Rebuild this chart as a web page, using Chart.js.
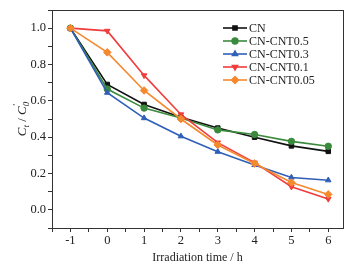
<!DOCTYPE html>
<html>
<head>
<meta charset="utf-8">
<script src="https://cdn.jsdelivr.net/npm/chart.js@4/dist/chart.umd.min.js"></script>
<style>
  html, body { margin: 0; padding: 0; background: #fff; }
  #wrap { width: 362px; height: 265px; }
</style>
</head>
<body>
<div id="wrap"><canvas id="c" width="362" height="265"></canvas></div>
<script>
// irradiation time (h)
const times = [-1, 0, 1, 2, 3, 4, 5, 6];

const cn       = [1.00, 0.69, 0.58, 0.51, 0.45, 0.40, 0.352, 0.322];
const cnt05    = [1.00, 0.665, 0.56, 0.505, 0.44, 0.415, 0.377, 0.35];
const cnt03    = [1.00, 0.645, 0.505, 0.405, 0.32, 0.247, 0.178, 0.163];
const cnt01    = [1.00, 0.985, 0.74, 0.525, 0.37, 0.26, 0.127, 0.06];
const cnt005   = [1.00, 0.867, 0.657, 0.50, 0.357, 0.255, 0.15, 0.085];

const seriesNames = ['CN', 'CN-CNT0.5', 'CN-CNT0.3', 'CN-CNT0.1', 'CN-CNT0.05'];
const seriesColors = ['#111111', '#3a8a3c', '#2f5fb8', '#f03c3c', '#f5892e'];

const serif = '"Liberation Serif", "Times New Roman", serif';
const axisColor = '#333';

function pts(vals) {
  return vals.map(function (v, i) { return { x: times[i], y: v }; });
}

function makeSet(n, vals, style, rot) {
  return {
    label: seriesNames[n],
    data: pts(vals),
    borderColor: seriesColors[n],
    backgroundColor: seriesColors[n],
    borderWidth: 1.6,
    pointStyle: style,
    pointRotation: rot || 0,
    pointRadius: style === 'rectRot' ? 3.8 : 3.2,
    pointBorderWidth: 1,
    tension: 0,
    order: 5 - n
  };
}

const datasets = [
  makeSet(0, cn, 'rect'),
  makeSet(1, cnt05, 'circle'),
  makeSet(2, cnt03, 'triangle'),
  makeSet(3, cnt01, 'triangle', 180),
  makeSet(4, cnt005, 'rectRot')
];

// frame, y title and legend drawn on the canvas
const extras = {
  id: 'extras',
  afterDraw: function (chart) {
    const ctx = chart.ctx;
    const a = chart.chartArea;
    ctx.save();
    ctx.strokeStyle = axisColor;
    ctx.lineWidth = 1;
    ctx.strokeRect(a.left + 0.5, a.top + 0.5, a.right - a.left, a.bottom - a.top);

    // y axis title: C_t / C'_0
    ctx.translate(21, (a.top + a.bottom) / 2);
    ctx.rotate(-Math.PI / 2);
    ctx.fillStyle = '#222';
    ctx.textBaseline = 'alphabetic';
    const big = 'italic 13px ' + serif;
    const small = 'italic 9px ' + serif;
    const norm = '13px ' + serif;
    const parts = [
      [big, 'C', 0], [small, 't', 3], [norm, ' / ', 0],
      [big, 'C', 0], [small, '0', 3], [small, "'", -7]
    ];
    const widths = parts.map(function (p) {
      ctx.font = p[0];
      return ctx.measureText(p[1]).width;
    });
    const total = widths[0] + widths[1] + widths[2] + widths[3] + widths[4];
    let x = -total / 2;
    const baseY = 5;
    for (let i = 0; i < parts.length; i++) {
      ctx.font = parts[i][0];
      if (i === 5) {
        // prime sits over the subscript
        ctx.fillText(parts[i][1], x - widths[4], baseY + parts[i][2]);
      } else {
        ctx.fillText(parts[i][1], x, baseY + parts[i][2]);
        x += widths[i];
      }
    }
    ctx.restore();

    // legend
    ctx.save();
    const lx = 223, ly = 28, dy = 13;
    chart.data.datasets.forEach(function (ds, i) {
      const y = ly + i * dy;
      ctx.strokeStyle = ds.borderColor;
      ctx.lineWidth = 1.6;
      ctx.beginPath();
      ctx.moveTo(lx, y);
      ctx.lineTo(lx + 24, y);
      ctx.stroke();
      ctx.fillStyle = ds.backgroundColor;
      Chart.helpers.drawPoint(ctx, {
        pointStyle: ds.pointStyle,
        rotation: ds.pointRotation,
        radius: ds.pointRadius * 0.9,
        borderWidth: 1
      }, lx + 12, y);
      ctx.fillStyle = '#222';
      ctx.font = '12px ' + serif;
      ctx.textBaseline = 'middle';
      ctx.fillText(ds.label, lx + 26, y + 0.5);
    });
    ctx.restore();
  }
};

function isStep(v, step) {
  const k = Math.round(v / step);
  return Math.abs(k * step - v) < 1e-6;
}

new Chart(document.getElementById('c').getContext('2d'), {
  type: 'line',
  data: { datasets: datasets },
  options: {
    responsive: false,
    animation: false,
    devicePixelRatio: 1,
    layout: { padding: { top: 10, right: 19, left: 0, bottom: 0 } },
    plugins: {
      legend: { display: false },
      tooltip: { enabled: false }
    },
    scales: {
      x: {
        type: 'linear',
        min: -1.5,
        max: 6.4,
        afterFit: function (scale) { scale.height = 37; },
        afterBuildTicks: function (scale) {
          const t = [];
          for (let v = -1.5; v <= 6.4 + 1e-9; v += 0.5) t.push({ value: Math.round(v * 10) / 10 });
          scale.ticks = t;
        },
        border: { display: true, color: axisColor, width: 1 },
        grid: {
          drawOnChartArea: false,
          drawTicks: true,
          tickLength: 4,
          tickColor: axisColor
        },
        ticks: {
          autoSkip: false,
          maxRotation: 0,
          padding: 1,
          color: '#222',
          font: { family: serif, size: 12.5 },
          callback: function (v) {
            return isStep(v, 1) ? String(Math.round(v)) : '';
          }
        },
        title: {
          display: true,
          text: 'Irradiation time / h',
          color: '#222',
          font: { family: serif, size: 12 },
          padding: { top: 0, bottom: 0 }
        }
      },
      y: {
        type: 'linear',
        min: -0.1,
        max: 1.1,
        afterFit: function (scale) { scale.width = 52; },
        afterBuildTicks: function (scale) {
          const t = [];
          for (let k = -1; k <= 11; k++) t.push({ value: k / 10 });
          scale.ticks = t;
        },
        border: { display: true, color: axisColor, width: 1 },
        grid: {
          drawOnChartArea: false,
          drawTicks: true,
          tickLength: 4,
          tickColor: axisColor
        },
        ticks: {
          autoSkip: false,
          padding: 2,
          color: '#222',
          font: { family: serif, size: 12.5 },
          callback: function (v) {
            const k = Math.round(v * 10);
            return (k >= 0 && k <= 10 && k % 2 === 0) ? (k / 10).toFixed(1) : '';
          }
        }
      }
    }
  },
  plugins: [extras]
});
</script>
</body>
</html>
